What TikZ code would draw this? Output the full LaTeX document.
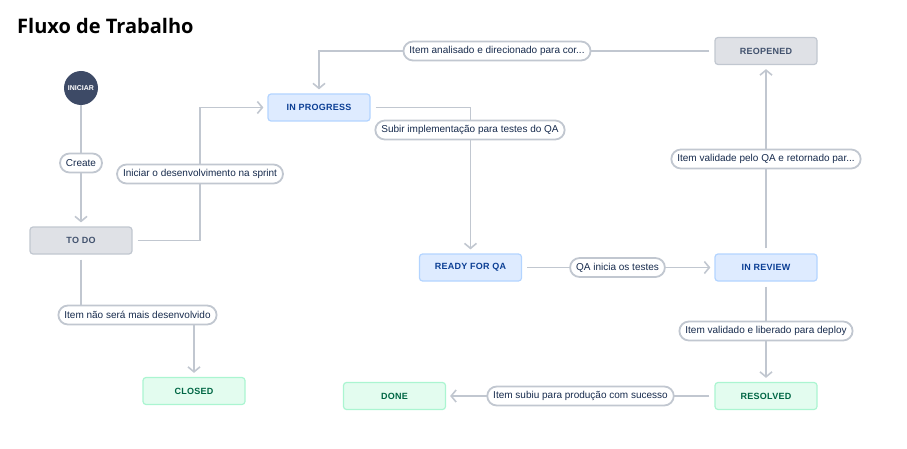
\documentclass[tikz,border=0pt]{standalone}
\usepackage{fontspec}
\setmainfont{Liberation Sans}
\newfontfamily\titlefont{Open Sans}
\usetikzlibrary{arrows.meta,backgrounds}

\definecolor{linegray}{HTML}{C1C7D0}
\definecolor{todofill}{HTML}{DFE1E6}
\definecolor{todotext}{HTML}{42526E}
\definecolor{progfill}{HTML}{DEEBFF}
\definecolor{progborder}{HTML}{B3D4FF}
\definecolor{progtext}{HTML}{0B3E94}
\definecolor{donefill}{HTML}{E3FCEF}
\definecolor{doneborder}{HTML}{ABF5D1}
\definecolor{donetext}{HTML}{006644}
\definecolor{startfill}{HTML}{3D4A66}
\definecolor{labeltext}{HTML}{172B4D}

\tikzset{
  statusbox/.style={rectangle, rounded corners=3pt, line width=1.2pt,
    minimum width=102pt, minimum height=27pt, inner sep=0pt,
    font=\fontsize{9}{11}\selectfont\bfseries\addfontfeature{LetterSpace=3}},
  todostate/.style={statusbox, fill=todofill, draw=linegray, text=todotext},
  progstate/.style={statusbox, fill=progfill, draw=progborder, text=progtext},
  donestate/.style={statusbox, fill=donefill, draw=doneborder, text=donetext},
  startnode/.style={circle, fill=startfill, minimum size=34pt, inner sep=0pt,
    text=white, font=\fontsize{7}{8}\selectfont\bfseries},
  translabel/.style={rectangle, rounded corners=9.5pt, fill=white, draw=linegray,
    line width=1.8pt, minimum height=19pt, inner xsep=6pt, inner ysep=0pt,
    text=labeltext, font=\fontsize{10}{12}\selectfont},
  conn/.style={draw=linegray, line width=1.6pt,
    -{Straight Barb[length=5pt,width=12pt]}, shorten >=4pt},
  gapstart/.style={shorten <=5pt},
}

\begin{document}
\begin{tikzpicture}[x=1pt,y=-1pt]
\useasboundingbox (0,0) rectangle (907,449);

% title
\node[anchor=base west, inner sep=0pt, font=\titlefont\fontsize{20}{24}\selectfont\bfseries]
  (title) at (17,34) {Fluxo de Trabalho};

% statuses
\node[startnode] (start) at (81,88) {INICIAR};
\node[todostate] (todo) at (81,240.5) {TO DO};
\node[progstate] (inprog) at (319,107.5) {IN PROGRESS};
\node[progstate] (ready) at (470.5,267.5) {READY FOR QA};
\node[progstate] (review) at (766,267.5) {IN REVIEW};
\node[todostate] (reopened) at (766,51) {REOPENED};
\node[donestate] (resolved) at (766,396) {RESOLVED};
\node[donestate] (done) at (394.5,396) {DONE};
\node[donestate] (closed) at (194,391) {CLOSED};

% transition labels
\node[translabel] (lcreate) at (81,163) {Create};
\node[translabel] (lsprint) at (200,174) {Iniciar o desenvolvimento na sprint};
\node[translabel] (lsubir) at (470,130) {Subir implementação para testes do QA};
\node[translabel] (lqa) at (617.5,267.5) {QA inicia os testes};
\node[translabel] (lvalret) at (766,159) {Item validade pelo QA e retornado par...};
\node[translabel] (lanal) at (497,51) {Item analisado e direcionado para cor...};
\node[translabel] (ldeploy) at (766,331) {Item validado e liberado para deploy};
\node[translabel] (lprod) at (580.5,396) {Item subiu para produção com sucesso};
\node[translabel] (lnao) at (137.5,315) {Item não será mais desenvolvido};

% transitions
\begin{scope}[on background layer]
  \draw[conn] (start) -- (todo);
  \draw[conn, gapstart] (todo.east) -| (lsprint.center) |- (inprog.west);
  \draw[conn, gapstart] (inprog.east) -| (ready.north);
  \draw[conn, gapstart] (ready.east) -- (review.west);
  \draw[conn, gapstart] (review.north) -- (reopened.south);
  \draw[conn, gapstart] (reopened.west) -| (inprog.north);
  \draw[conn, gapstart] (review.south) -- (resolved.north);
  \draw[conn, gapstart] (resolved.west) -- (done.east);
  \draw[conn, gapstart] (todo.south) |- (lnao.center) -| (closed.north);
\end{scope}
\end{tikzpicture}
\end{document}
